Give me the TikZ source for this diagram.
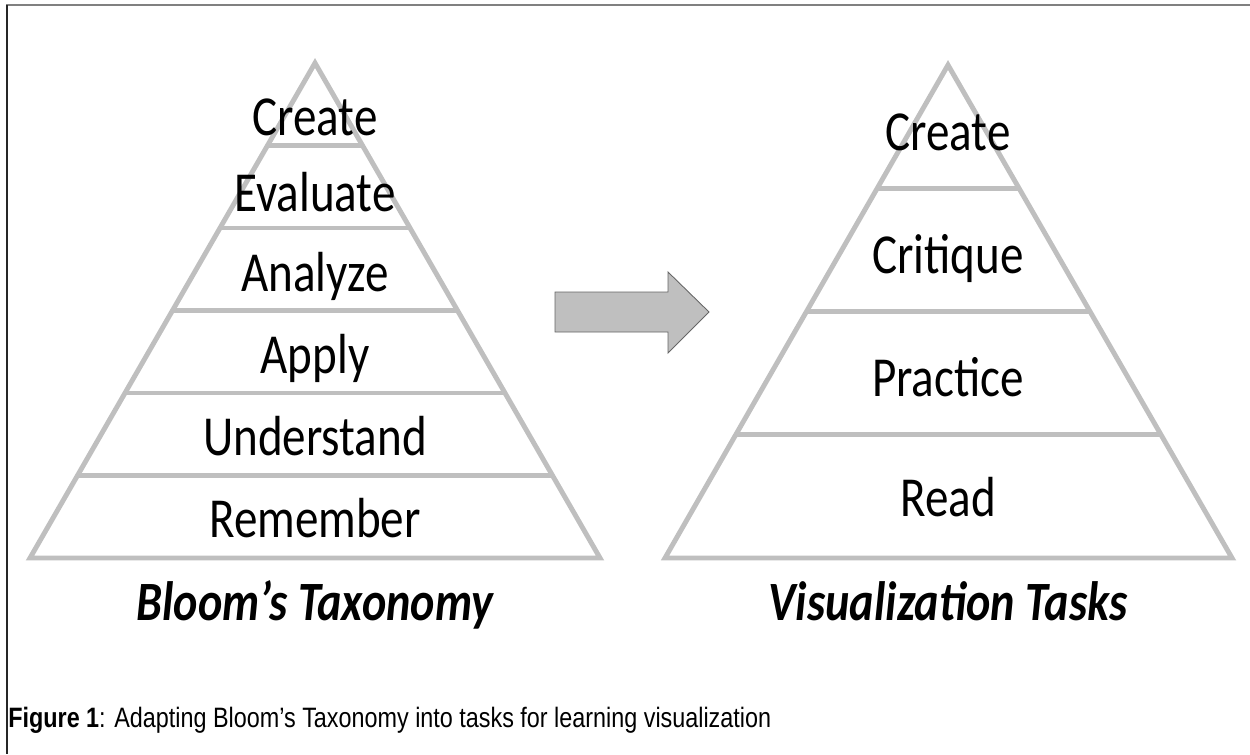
\documentclass[tikz,border=0pt]{standalone}
\usepackage{fontspec}
\setmainfont{Carlito}
\newfontfamily\capfont{Liberation Sans}
\usetikzlibrary{positioning,calc}
\newcommand{\stretchy}[1]{\scalebox{1}[1.2]{#1}}

\begin{document}
\begin{tikzpicture}[x=0.02cm,y=-0.02cm]
	\tikzset{layer/.style={draw=black!25,line width=2.8pt,line join=miter},
		lvl/.style={anchor=base,inner sep=0pt,font=\fontsize{26.8}{30}\selectfont},
		ttl/.style={anchor=base,inner sep=0pt,font=\fontsize{26.3}{32}\selectfont\bfseries\itshape},
		bigarrow/.style={fill=black!25,draw=black!60,line width=0.5pt}}
	\useasboundingbox (0,0) rectangle (1250,754);

	%% frame
	\draw[black!50,line width=1.2pt] (6,5) -- (1250,5);
	\draw[black!85,line width=1.2pt] (7,5) -- (7,754);

	%% Bloom pyramid
	\coordinate (ltop) at (315,63);
	\coordinate (lbl) at (30,558);
	\coordinate (lbr) at (600,558);
	\draw[layer] (ltop) -- (lbr) -- (lbl) -- cycle;
	\foreach \k in {1,...,5}
		\draw[layer] ($(ltop)!\k/6!(lbl)$) -- ($(ltop)!\k/6!(lbr)$);
	\node[lvl] (lcreate) at (315,135) {\stretchy{Create}};
	\node[lvl] (levaluate) at (315,211) {\stretchy{Evaluate}};
	\node[lvl] (lanalyze) at (315,291) {\stretchy{Analyze}};
	\node[lvl] (lapply) at (315,373) {\stretchy{Apply}};
	\node[lvl] (lunderstand) at (315,455) {\stretchy{Understand}};
	\node[lvl] (lremember) at (315,537) {\stretchy{Remember}};

	%% arrow
	\draw[bigarrow] (555,292) -- (668,292) -- (668,272) -- (709,312)
		-- (668,353) -- (668,332) -- (555,332) -- cycle;

	%% Visualization pyramid
	\coordinate (rtop) at (948,65);
	\coordinate (rbl) at (665,558);
	\coordinate (rbr) at (1232,558);
	\draw[layer] (rtop) -- (rbr) -- (rbl) -- cycle;
	\foreach \k in {1,...,3}
		\draw[layer] ($(rtop)!\k/4!(rbl)$) -- ($(rtop)!\k/4!(rbr)$);
	\node[lvl] (rcreate) at (948,150) {\stretchy{Create}};
	\node[lvl] (rcritique) at (948,273) {\stretchy{Critique}};
	\node[lvl] (rpractice) at (948,396) {\stretchy{Practice}};
	\node[lvl] (rread) at (948,516) {\stretchy{Read}};

	%% titles
	\node[ttl] (bloom) at (315,620) {\stretchy{Bloom’s Taxonomy}};
	\node[ttl] (vistasks) at (948,620) {\stretchy{Visualization Tasks}};

	%% caption
	\node[anchor=base west,inner sep=0pt,font=\capfont\fontsize{13.3}{16}\selectfont] (caption) at (8,727)
		{\stretchy{\textbf{Figure 1}: Adapting Bloom’s Taxonomy into tasks for learning visualization}};
\end{tikzpicture}
\end{document}
